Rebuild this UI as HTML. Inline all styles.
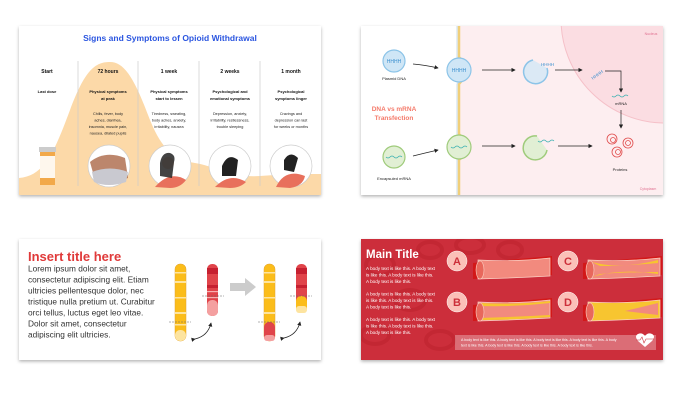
<!DOCTYPE html>
<html><head><meta charset="utf-8"><style>
html,body{margin:0;padding:0;background:#fff;width:685px;height:412px;overflow:hidden}
svg{display:block}
text{font-family:"Liberation Sans",sans-serif}
</style></head><body>
<svg width="685" height="412" viewBox="0 0 685 412" xmlns="http://www.w3.org/2000/svg">
<defs>
<filter id="sh" x="-5%" y="-5%" width="110%" height="115%"><feDropShadow dx="0" dy="1.5" stdDeviation="1.5" flood-color="#000" flood-opacity="0.3"/></filter>
<clipPath id="c1"><rect x="19" y="26" width="302" height="169"/></clipPath>
<clipPath id="c2"><rect x="361" y="26" width="302" height="169"/></clipPath>
<clipPath id="c4"><rect x="361" y="239" width="302" height="121"/></clipPath>
<marker id="ar" markerWidth="6" markerHeight="6" refX="5" refY="3" orient="auto"><path d="M0,0 L6,3 L0,6z" fill="#222"/></marker>
</defs>

<!-- Card 1 -->
<rect x="19" y="26" width="302" height="169" fill="#fff" filter="url(#sh)"/>
<g clip-path="url(#c1)">
<path d="M19,178 C45,176 55,150 70,110 C85,70 95,62 110,62 C125,62 135,80 150,120 C162,150 175,160 195,163 C215,166 230,178 260,176 C285,174 305,174 321,174 L321,195 L19,195z" fill="#fcd9a8"/>
<g stroke="#ccc" stroke-width="0.7"><line x1="78" y1="61" x2="78" y2="186"/><line x1="138" y1="61" x2="138" y2="186"/><line x1="199" y1="61" x2="199" y2="186"/><line x1="260" y1="61" x2="260" y2="186"/></g>
<text x="170" y="41" font-size="8.5" font-weight="bold" fill="#2a55e0" text-anchor="middle">Signs and Symptoms of Opioid Withdrawal</text>
<g font-size="5" font-weight="bold" fill="#111" text-anchor="middle">
<text x="47" y="73">Start</text><text x="108" y="73">72 hours</text><text x="169" y="73">1 week</text><text x="230" y="73">2 weeks</text><text x="291" y="73">1 month</text>
</g>
<g font-size="4" font-weight="bold" fill="#111" text-anchor="middle">
<text x="47" y="93">Last dose</text>
<text x="108" y="93">Physical symptoms</text><text x="108" y="100">at peak</text>
<text x="169" y="93">Physical symptoms</text><text x="169" y="100">start to lessen</text>
<text x="230" y="93">Psychological and</text><text x="230" y="100">emotional symptoms</text>
<text x="291" y="93">Psychological</text><text x="291" y="100">symptoms linger</text>
</g>
<g font-size="3.8" fill="#222" text-anchor="middle">
<text x="108" y="115">Chills, fever, body</text><text x="108" y="121.5">aches, diarrhea,</text><text x="108" y="128">insomnia, muscle pain,</text><text x="108" y="134.5">nausea, dilated pupils</text>
<text x="169" y="115">Tiredness, sweating,</text><text x="169" y="121.5">body aches, anxiety,</text><text x="169" y="128">irritability, nausea</text>
<text x="230" y="115">Depression, anxiety,</text><text x="230" y="121.5">irritability, restlessness,</text><text x="230" y="128">trouble sleeping</text>
<text x="291" y="115">Cravings and</text><text x="291" y="121.5">depression can last</text><text x="291" y="128">for weeks or months</text>
</g>
<rect x="39" y="147" width="17" height="5" fill="#ccc"/>
<rect x="40" y="152" width="15" height="33" fill="#f2a94a"/>
<rect x="40" y="156" width="15" height="22" fill="#fff" opacity="0.9"/>
<g stroke="#ccc" stroke-width="0.7">
<circle cx="109" cy="166" r="21" fill="#fff"/><circle cx="170" cy="166" r="21" fill="#fff"/><circle cx="230" cy="166" r="21" fill="#fff"/><circle cx="291" cy="166" r="21" fill="#fff"/>
</g>
<path d="M90,162 Q105,150 125,158 L128,178 Q110,185 95,180z" fill="#a0522d" opacity="0.7"/>
<path d="M92,172 Q110,165 128,172 L126,182 Q108,188 94,182z" fill="#c9c9d0"/>
<path d="M155,187 Q170,170 186,180 Q180,188 170,188z" fill="#e8705c"/><circle cx="168" cy="163" r="6" fill="#f6d3c0"/><path d="M160,163 Q162,152 170,153 Q176,155 174,162 L172,178 L160,176z" fill="#222" opacity="0.85"/>
<path d="M215,187 Q230,172 246,182 Q240,188 230,188z" fill="#e8705c"/><path d="M222,166 Q228,152 238,160 L236,176 L222,176z" fill="#222"/>
<path d="M276,187 Q285,168 305,176 Q303,186 290,188z" fill="#e8705c"/><path d="M284,160 Q290,150 298,158 L294,172 L284,170z" fill="#222"/>
</g>

<!-- Card 2 -->
<rect x="361" y="26" width="302" height="169" fill="#fff" filter="url(#sh)"/>
<g clip-path="url(#c2)">
<rect x="459" y="26" width="204" height="169" fill="#fdeef0"/>
<circle cx="665" cy="19" r="104" fill="#fbdde2" stroke="#f5c0c8" stroke-width="1"/>
<path d="M459,26 L459,57 Q473,70 459,84 L459,134 Q473,147 459,160 L459,195" fill="none" stroke="#f0cf7a" stroke-width="2.5"/>
<path d="M457,26 L457,57 Q471,70 457,84 L457,134 Q471,147 457,160 L457,195" fill="none" stroke="#c8dcee" stroke-width="1"/>
<circle cx="394" cy="61" r="11" fill="#cfe6f6" stroke="#8cc4e8" stroke-width="1.2"/>
<text x="394" y="63" font-size="5" fill="#3a8fcf" text-anchor="middle">HHHH</text>
<text x="394" y="80" font-size="4" fill="#222" text-anchor="middle">Plasmid DNA</text>
<circle cx="459" cy="70" r="12" fill="#cfe6f6" stroke="#8cc4e8" stroke-width="1.2"/>
<text x="459" y="72" font-size="5" fill="#3a8fcf" text-anchor="middle">HHHH</text>
<path d="M413,64 Q425,65 438,68" fill="none" stroke="#222" stroke-width="0.7" marker-end="url(#ar)"/>
<line x1="482" y1="70" x2="515" y2="70" stroke="#222" stroke-width="0.7" marker-end="url(#ar)"/>
<path d="M547,68 A12,12 0 1 1 533,60" fill="#dbe9f5" stroke="#8cc4e8" stroke-width="1.5"/>
<text x="541" y="66" font-size="4.5" fill="#3a8fcf">HHHH</text>
<line x1="555" y1="70" x2="582" y2="70" stroke="#222" stroke-width="0.7" marker-end="url(#ar)"/>
<text x="590" y="77" font-size="4.5" fill="#3a8fcf" transform="rotate(-35 596 74)">HHHH</text>
<polyline points="605,71 621,71 621,92" fill="none" stroke="#222" stroke-width="0.7" marker-end="url(#ar)"/>
<path d="M612,96 q2,2 4,0 q2,-2 4,0 q2,2 4,0 q2,-2 4,0" fill="none" stroke="#3ab0b0" stroke-width="0.8"/>
<text x="621" y="105" font-size="4" fill="#222" text-anchor="middle">mRNA</text>
<line x1="621" y1="110" x2="621" y2="128" stroke="#222" stroke-width="0.7" marker-end="url(#ar)"/>
<g fill="none" stroke="#e04a4a" stroke-width="0.8"><circle cx="612" cy="139" r="5"/><circle cx="628" cy="143" r="5"/><circle cx="617" cy="152" r="5"/><circle cx="613" cy="140" r="2.5"/><circle cx="628" cy="143" r="2.5"/><circle cx="618" cy="152" r="2.5"/></g>
<text x="620" y="171" font-size="4" fill="#222" text-anchor="middle">Proteins</text>
<text x="394" y="111" font-size="6.5" font-weight="bold" fill="#f47a6a" text-anchor="middle">DNA vs mRNA</text>
<text x="394" y="120" font-size="6.5" font-weight="bold" fill="#f47a6a" text-anchor="middle">Transfection</text>
<circle cx="394" cy="157" r="11" fill="#e1efd4" stroke="#9fcb7b" stroke-width="1.2"/>
<path d="M386,157 q2,2 4,0 q2,-2 4,0 q2,2 4,0 q2,-2 4,0" fill="none" stroke="#3ab0b0" stroke-width="0.8"/>
<text x="394" y="180" font-size="4" fill="#222" text-anchor="middle">Encapsuled mRNA</text>
<circle cx="459" cy="147" r="12" fill="#e1efd4" stroke="#9fcb7b" stroke-width="1.2"/>
<path d="M451,147 q2,2 4,0 q2,-2 4,0 q2,2 4,0 q2,-2 4,0" fill="none" stroke="#3ab0b0" stroke-width="0.8"/>
<path d="M413,156 Q425,153 438,150" fill="none" stroke="#222" stroke-width="0.7" marker-end="url(#ar)"/>
<line x1="482" y1="146" x2="515" y2="146" stroke="#222" stroke-width="0.7" marker-end="url(#ar)"/>
<path d="M547,150 A12,12 0 1 1 537,136" fill="#e1efd4" stroke="#9fcb7b" stroke-width="1.5"/>
<path d="M538,141 q2,2 4,0 q2,-2 4,0 q2,2 4,0 q2,-2 4,0" fill="none" stroke="#3ab0b0" stroke-width="0.8"/>
<line x1="558" y1="146" x2="592" y2="146" stroke="#222" stroke-width="0.7" marker-end="url(#ar)"/>
<text x="651" y="35" font-size="3.5" fill="#e07090" text-anchor="middle">Nucleus</text>
<text x="648" y="190" font-size="3.5" fill="#e07090" text-anchor="middle">Cytoplasm</text>
</g>

<!-- Card 3 -->
<rect x="19" y="239" width="302" height="121" fill="#fff" filter="url(#sh)"/>
<text x="28" y="261" font-size="13" font-weight="bold" fill="#e03a3a">Insert title here</text>
<g font-size="8.3" fill="#333">
<text x="28" y="271.5">Lorem ipsum dolor sit amet,</text>
<text x="28" y="282.5">consectetur adipiscing elit. Etiam</text>
<text x="28" y="293.5">ultricies pellentesque dolor, nec</text>
<text x="28" y="304.5">tristique nulla pretium ut. Curabitur</text>
<text x="28" y="315.5">orci tellus, luctus eget leo vitae.</text>
<text x="28" y="326.5">Dolor sit amet, consectetur</text>
<text x="28" y="337.5">adipiscing elit ultricies.</text>
</g>
<rect x="175" y="264" width="11" height="77" rx="5" fill="#fbbd1a" stroke="#e0a030" stroke-width="0.5"/>
<rect x="175" y="330" width="11" height="11" rx="5" fill="#fde4a0"/>
<g fill="#fde4a0"><rect x="175" y="272" width="11" height="1.5"/><rect x="175" y="281" width="11" height="2"/><rect x="175" y="297" width="11" height="1.5"/><rect x="175" y="312" width="11" height="2"/><rect x="175" y="324" width="11" height="1.5"/></g>
<line x1="169" y1="322" x2="191" y2="322" stroke="#666" stroke-width="0.6" stroke-dasharray="2,1"/>
<rect x="207" y="264" width="11" height="52" rx="5" fill="#e0444a"/>
<rect x="207" y="300" width="11" height="16" rx="5" fill="#f4a0a0"/>
<g fill="#c62030"><rect x="207" y="268" width="11" height="6"/><rect x="207" y="285" width="11" height="3"/></g>
<g fill="#f7b0b0"><rect x="207" y="291" width="11" height="1.2"/><rect x="207" y="297" width="11" height="1.2"/></g>
<line x1="202" y1="296" x2="224" y2="296" stroke="#666" stroke-width="0.6" stroke-dasharray="2,1"/>
<path d="M195,339 Q208,336 211,323" fill="none" stroke="#222" stroke-width="0.7" marker-end="url(#ar)" marker-start="url(#ar)"/>
<path d="M230,283 L245,283 L245,278 L256,287 L245,296 L245,291 L230,291z" fill="#ccc"/>
<rect x="264" y="264" width="11" height="77" rx="5" fill="#fbbd1a" stroke="#e0a030" stroke-width="0.5"/>
<rect x="264" y="322" width="11" height="19" rx="5" fill="#e0444a"/>
<rect x="264" y="335" width="11" height="6" rx="3" fill="#f4a0a0"/>
<g fill="#fde4a0"><rect x="264" y="272" width="11" height="1.5"/><rect x="264" y="281" width="11" height="2"/><rect x="264" y="297" width="11" height="1.5"/><rect x="264" y="312" width="11" height="2"/></g>
<line x1="258" y1="322" x2="280" y2="322" stroke="#666" stroke-width="0.6" stroke-dasharray="2,1"/>
<rect x="296" y="264" width="11" height="49" rx="5" fill="#e0444a"/>
<rect x="296" y="296" width="11" height="17" rx="5" fill="#fbbd1a"/>
<rect x="296" y="306" width="11" height="7" rx="3" fill="#fde4a0"/>
<g fill="#c62030"><rect x="296" y="268" width="11" height="6"/><rect x="296" y="285" width="11" height="3"/></g>
<line x1="290" y1="296" x2="312" y2="296" stroke="#666" stroke-width="0.6" stroke-dasharray="2,1"/>
<path d="M284,338 Q297,335 300,322" fill="none" stroke="#222" stroke-width="0.7" marker-end="url(#ar)" marker-start="url(#ar)"/>

<!-- Card 4 -->
<rect x="361" y="239" width="302" height="121" fill="#cc2f3a" filter="url(#sh)"/>
<g clip-path="url(#c4)">
<g fill="none" stroke="#c22632" stroke-width="4" opacity="0.8">
<ellipse cx="380" cy="265" rx="14" ry="10"/><ellipse cx="410" cy="300" rx="15" ry="10"/><ellipse cx="375" cy="335" rx="14" ry="9"/><ellipse cx="430" cy="250" rx="12" ry="8"/><ellipse cx="440" cy="340" rx="14" ry="9"/><ellipse cx="470" cy="245" rx="14" ry="8"/><ellipse cx="510" cy="250" rx="12" ry="8"/>
</g>
<text x="366" y="258" font-size="11.5" font-weight="bold" fill="#fff">Main Title</text>
<g font-size="4.6" fill="#fff">
<text x="366" y="270">A body text is like this. A body text</text><text x="366" y="276.5">is like this. A body text is like this.</text><text x="366" y="283">A body text is like this.</text>
<text x="366" y="295.5">A body text is like this. A body text</text><text x="366" y="302">is like this. A body text is like this.</text><text x="366" y="308.5">A body text is like this.</text>
<text x="366" y="321">A body text is like this. A body text</text><text x="366" y="327.5">is like this. A body text is like this.</text><text x="366" y="334">A body text is like this.</text>
</g>
<g>
<path d="M473,263 L552,256 L552,275 L473,279z" fill="#d31818"/>
<path d="M478,260 Q515,262 550,258 L550,276 Q515,278 478,279z" fill="#f28a7e" stroke="#fbd0c4" stroke-width="0.7"/>
<ellipse cx="480" cy="270" rx="4" ry="9" fill="#e8685c" stroke="#fbd0c4" stroke-width="0.6"/>
<path d="M583,263 L662,256 L662,275 L583,279z" fill="#d31818"/>
<path d="M588,260 Q625,262 660,258 L660,276 Q625,278 588,279z" fill="#f28a7e" stroke="#fbd0c4" stroke-width="0.7"/>
<path d="M592,262 Q620,270 658,260 L658,263 Q625,266 600,266z M592,277 Q620,268 658,274 L658,272 Q625,272 600,274z" fill="#f7c530"/>
<ellipse cx="590" cy="270" rx="4" ry="9" fill="#e8685c" stroke="#fbd0c4" stroke-width="0.6"/>
<path d="M473,305 L552,298 L552,317 L473,321z" fill="#d31818"/>
<path d="M478,302 Q515,304 550,300 L550,318 Q515,320 478,321z" fill="#f28a7e" stroke="#fbd0c4" stroke-width="0.7"/>
<path d="M480,303 Q515,305 550,301 L550,303 Q515,307 480,306z M480,318 Q515,317 550,315 L550,317 Q515,320 480,320z" fill="#f7c530"/>
<ellipse cx="480" cy="312" rx="4" ry="9" fill="#e8685c" stroke="#fbd0c4" stroke-width="0.6"/>
<path d="M583,305 L662,298 L662,317 L583,321z" fill="#d31818"/>
<path d="M588,302 Q625,304 660,300 L660,318 Q625,320 588,321z" fill="#f7c530" stroke="#fbd0c4" stroke-width="0.7"/>
<path d="M625,311 L658,303 L658,315z" fill="#f28a7e"/>
<ellipse cx="590" cy="312" rx="4" ry="9" fill="#e8685c" stroke="#fbd0c4" stroke-width="0.6"/>
</g>
<g fill="#fbc0b8" stroke="#fff" stroke-width="0.5"><circle cx="457" cy="261" r="10"/><circle cx="568" cy="261" r="10"/><circle cx="457" cy="302" r="10"/><circle cx="568" cy="302" r="10"/></g>
<g font-size="11" font-weight="bold" fill="#cc2f3a" text-anchor="middle"><text x="457" y="265">A</text><text x="568" y="265">C</text><text x="457" y="306">B</text><text x="568" y="306">D</text></g>
<rect x="455" y="335" width="201" height="15" fill="#fff" opacity="0.3"/>
<g font-size="3.6" fill="#fff"><text x="461" y="341">A body text is like this. A body text is like this. A body text is like this. A body text is like this. A body</text><text x="461" y="346.5">text is like this. A body text is like this. A body text is like this. A body text is like this.</text></g>
<path d="M645,347 L638,341 Q634,336 638,334 Q642,332 645,336 Q648,332 652,334 Q656,336 652,341z" fill="#fff"/>
<polyline points="636,340 640,340 642,337 644,343 646,339 654,339" fill="none" stroke="#cc2f3a" stroke-width="0.6"/>
</g>
</svg>
</body></html>
